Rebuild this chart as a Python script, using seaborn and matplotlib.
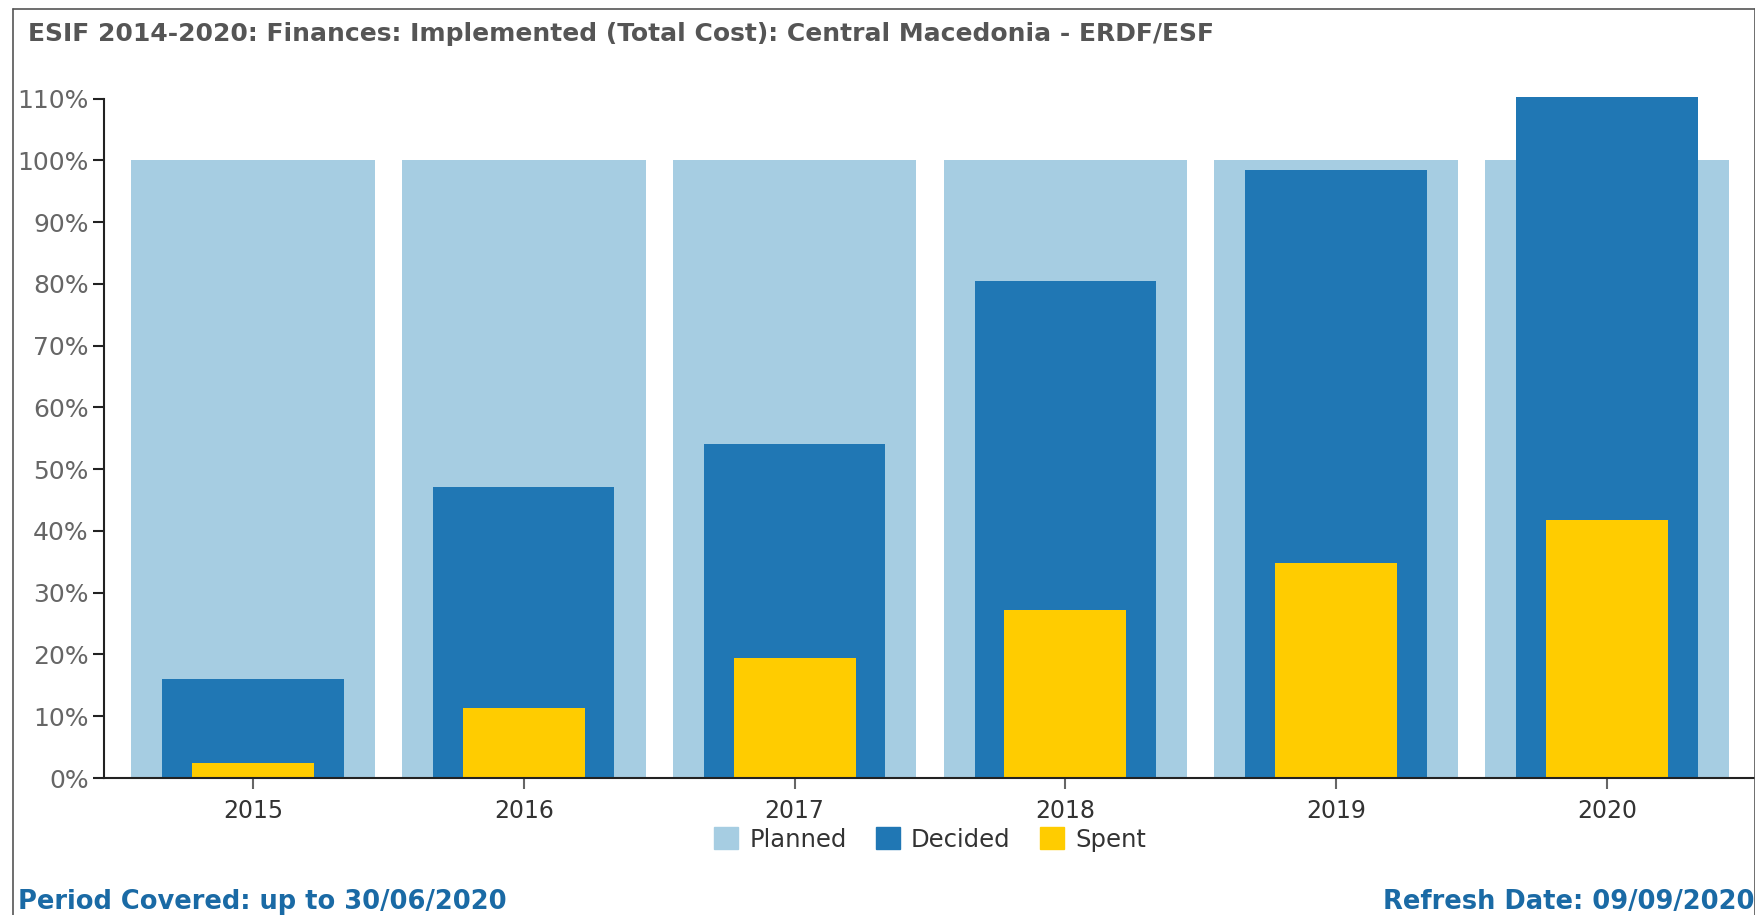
import pandas as pd
import matplotlib
matplotlib.use("Agg")
import matplotlib.pyplot as plt
import seaborn as sns
from matplotlib.lines import Line2D
from matplotlib.patches import Patch

# values (% of planned total cost)
years = ["2015", "2016", "2017", "2018", "2019", "2020"]
planned = [100, 100, 100, 100, 100, 100]
decided = [16.1, 47.1, 54.0, 80.4, 98.4, 110.2]
spent = [2.5, 11.4, 19.4, 27.2, 34.8, 41.7]

title = "ESIF 2014-2020: Finances: Implemented (Total Cost): Central Macedonia - ERDF/ESF"
period_text = "Period Covered: up to 30/06/2020"
refresh_text = "Refresh Date: 09/09/2020"

c_planned = "#a6cde2"
c_decided = "#2077b4"
c_spent = "#ffcc00"
c_footer = "#1a6aa5"

df = pd.DataFrame({"Year": years, "Planned": planned, "Decided": decided, "Spent": spent})

sns.set_style("white")
plt.rcParams["font.family"] = ["DejaVu Sans"]

fig = plt.figure(figsize=(17.56, 9.15), dpi=100)
ax = fig.add_axes([0.0592, 0.1497, 0.9408, 0.7453])

# draw the three layers, widest first
sns.barplot(data=df, x="Year", y="Planned", color=c_planned, width=0.9, saturation=1, linewidth=0, ax=ax)
sns.barplot(data=df, x="Year", y="Decided", color=c_decided, width=0.67, saturation=1, linewidth=0, ax=ax)
sns.barplot(data=df, x="Year", y="Spent", color=c_spent, width=0.45, saturation=1, linewidth=0, ax=ax)

ax.set_xlim(-0.55, 5.55)
ax.set_ylim(0, 110.4)
ax.set_yticks(range(0, 111, 10))
ax.set_yticklabels([f"{v}%" for v in range(0, 111, 10)], fontsize=18, color="#666666")
ax.set_xticks(range(len(years)))
ax.set_xticklabels(years, fontsize=17, color="#333333")
ax.set_xlabel("")
ax.set_ylabel("")

for side in ["top", "right"]:
    ax.spines[side].set_visible(False)
ax.spines["left"].set_bounds(0, 110)
for side in ["left", "bottom"]:
    ax.spines[side].set_color("#222222")
    ax.spines[side].set_linewidth(1.5)
ax.tick_params(axis="y", direction="out", length=8, width=1.5, color="#222222", pad=3, left=True)
ax.tick_params(axis="x", direction="out", length=8, width=1.5, color="#666666", pad=7, bottom=True)

# legend under the x tick labels
handles = [Patch(color=c_planned, label="Planned"),
           Patch(color=c_decided, label="Decided"),
           Patch(color=c_spent, label="Spent")]
ax.legend(handles=handles, loc="center", bbox_to_anchor=(0.5, -0.09), ncol=3,
          frameon=False, fontsize=17.5, handlelength=1.0, handleheight=1.0,
          handletextpad=0.45, columnspacing=1.2, labelcolor="#333333")

# title and footer
fig.text(28 / 1756, 1 - 34 / 915, title, fontsize=18, fontweight="bold", color="#555555",
         ha="left", va="center")
fig.text(18 / 1756, 1 - 902 / 915, period_text, fontsize=18.5, fontweight="bold", color=c_footer,
         ha="left", va="center")
fig.text(1755 / 1756, 1 - 902 / 915, refresh_text, fontsize=18.5, fontweight="bold", color=c_footer,
         ha="right", va="center")

# outer frame of the widget
fig.add_artist(Line2D([13 / 1756, 13 / 1756], [0, 1 - 9 / 915], transform=fig.transFigure,
                      color="#555555", lw=1.2))
fig.add_artist(Line2D([13 / 1756, 1755 / 1756], [1 - 9 / 915, 1 - 9 / 915], transform=fig.transFigure,
                      color="#555555", lw=1.2))
fig.add_artist(Line2D([1755 / 1756, 1755 / 1756], [0, 1 - 9 / 915], transform=fig.transFigure,
                      color="#555555", lw=1.2))

fig.savefig("out.png", dpi=100)
